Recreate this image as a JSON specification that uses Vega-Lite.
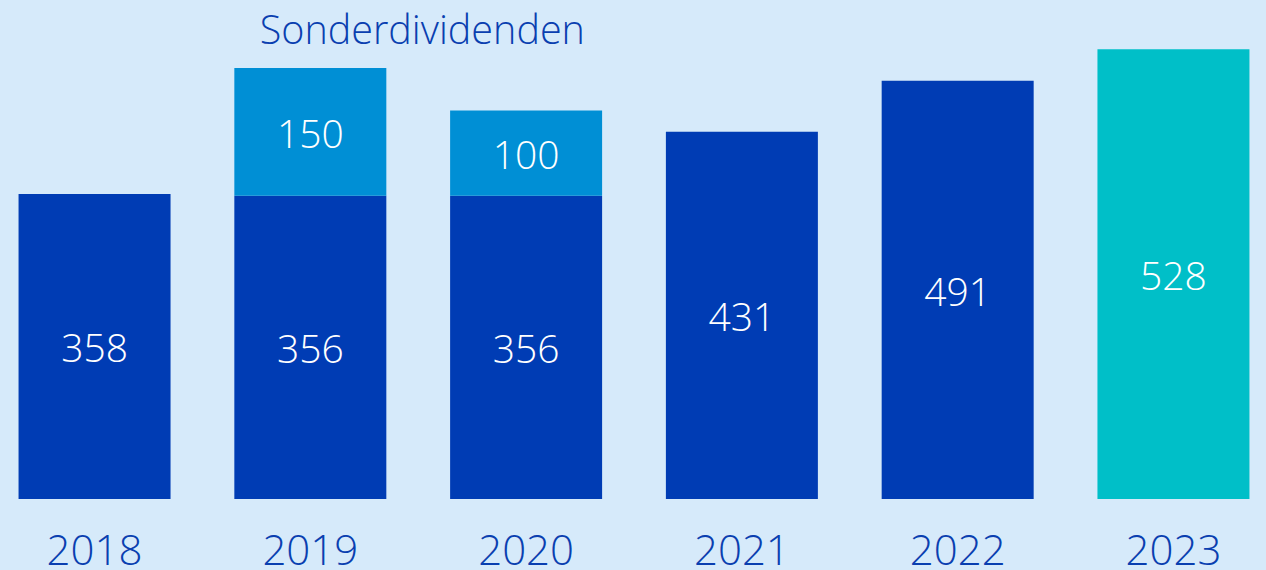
{
  "$schema": "https://vega.github.io/schema/vega-lite/v6.json",
  "width": 1264,
  "height": 499,
  "autosize": {"type": "none"},
  "padding": {"left": 2, "top": 0, "right": 0, "bottom": 71},
  "background": "#d6eafa",
  "config": {"view": {"stroke": null}, "font": "Open Sans"},
  "data": {
    "values": [
      {"year": "2018", "type": "Dividende", "value": 358, "order": 1},
      {"year": "2019", "type": "Dividende", "value": 356, "order": 1},
      {"year": "2019", "type": "Sonderdividende", "value": 150, "order": 2},
      {"year": "2020", "type": "Dividende", "value": 356, "order": 1},
      {"year": "2020", "type": "Sonderdividende", "value": 100, "order": 2},
      {"year": "2021", "type": "Dividende", "value": 431, "order": 1},
      {"year": "2022", "type": "Dividende", "value": 491, "order": 1},
      {"year": "2023", "type": "Aktuell", "value": 528, "order": 1}
    ]
  },
  "transform": [
    {"stack": "value", "groupby": ["year"], "sort": [{"field": "order", "order": "ascending"}], "as": ["v0", "v1"]},
    {"calculate": "(datum.v0 + datum.v1) / 2", "as": "mid"}
  ],
  "encoding": {
    "x": {
      "field": "year", "type": "nominal",
      "scale": {"paddingInner": 0.2956, "paddingOuter": 0.0767},
      "axis": {"title": null, "domain": false, "ticks": false, "labelAngle": 0, "labelFontSize": 42, "labelColor": "#0a3fb0", "labelPadding": 32, "labelFont": "Open Sans", "labelFontWeight": 350}
    }
  },
  "layer": [
    {
      "mark": {"type": "bar"},
      "encoding": {
        "y": {"field": "v0", "type": "quantitative", "scale": {"domain": [0, 585.7], "nice": false, "zero": true}, "axis": null},
        "y2": {"field": "v1"},
        "color": {
          "field": "type", "type": "nominal",
          "scale": {"domain": ["Dividende", "Sonderdividende", "Aktuell"], "range": ["#003cb4", "#008fd5", "#00bfc8"]},
          "legend": null
        }
      }
    },
    {
      "mark": {"type": "text", "color": "white", "fontSize": 39, "fontWeight": 350, "baseline": "middle", "dy": 4, "font": "Open Sans"},
      "encoding": {
        "y": {"field": "mid", "type": "quantitative"},
        "text": {"field": "value", "type": "quantitative"}
      }
    },
    {
      "data": {"values": [{"year": "2019", "label": "Sonderdividenden", "pos": 535}]},
      "mark": {"type": "text", "color": "#0a3fb0", "fontSize": 39.5, "fontWeight": 350, "baseline": "alphabetic", "dx": 112, "dy": 1, "font": "Open Sans"},
      "encoding": {
        "y": {"field": "pos", "type": "quantitative"},
        "text": {"field": "label"}
      }
    }
  ]
}
